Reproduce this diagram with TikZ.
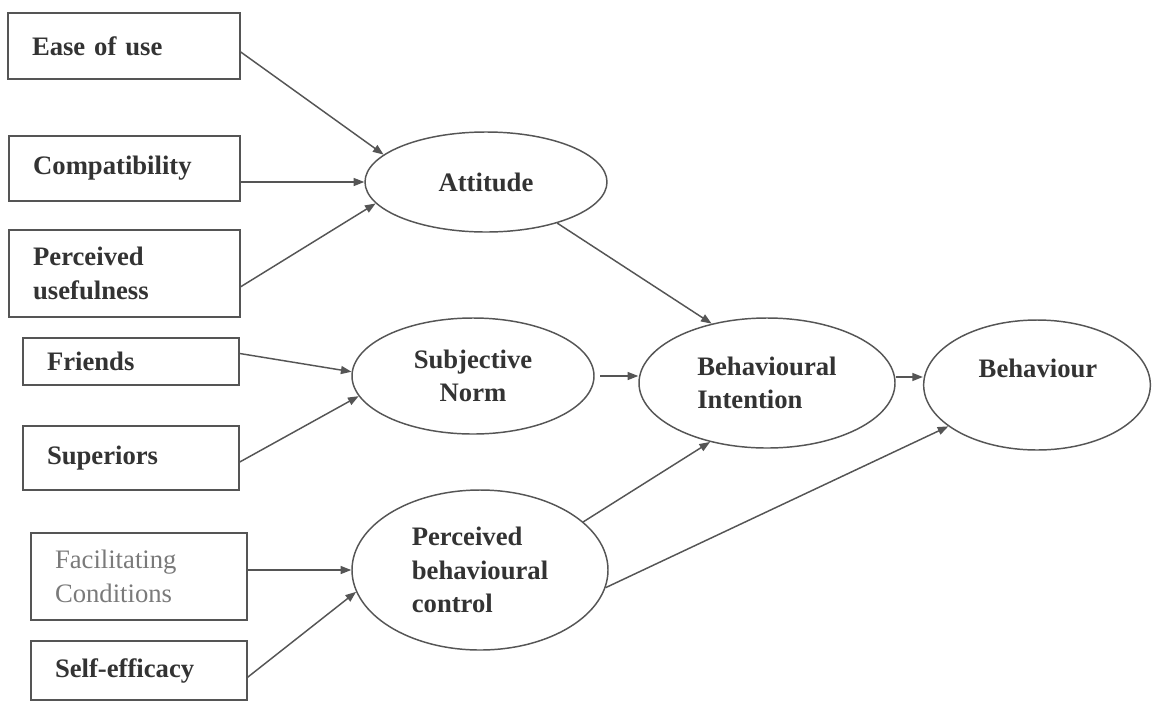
\documentclass[tikz,border=0pt]{standalone}
\usepackage{fontspec}
\setmainfont{Liberation Serif}
\usetikzlibrary{shapes.geometric,arrows.meta,calc}
\definecolor{ink}{HTML}{333333}
\definecolor{edge}{HTML}{555555}
\definecolor{soft}{HTML}{7A7A7A}
\begin{document}
\begin{tikzpicture}[x=0.75pt,y=-0.75pt,
  every node/.style={font=\fontsize{20pt}{25pt}\selectfont\bfseries, text=ink},
  factor/.style={draw=edge, line width=1.1pt, rectangle, inner xsep=18pt, inner ysep=0pt, align=left},
  construct/.style={draw=edge, line width=1.1pt, ellipse, inner sep=0pt, align=left},
  arr/.style={draw=edge, line width=1.1pt, -{Triangle[length=8pt,width=6pt]}}]
\useasboundingbox (0,0) rectangle (1153,701);
\fill[white] (0,0) rectangle (1153,701);

% left factor boxes
\node[factor, minimum width=174pt, minimum height=49.5pt, text width=138pt] (ease) at (124,46) {Ease of use};
\node[factor, minimum width=173pt, minimum height=49pt, text width=137pt] (compat) at (124.5,168.5) {Compatibility};
\node[factor, minimum width=173pt, minimum height=65pt, text width=137pt] (pu) at (124.5,273.5) {Perceived\\usefulness};
\node[factor, minimum width=162pt, minimum height=35pt, text width=126pt] (friends) at (131,361.5) {\raisebox{-4pt}{Friends}};
\node[factor, minimum width=162pt, minimum height=48pt, text width=126pt] (sup) at (131,458) {Superiors};
\node[factor, minimum width=160.5pt, minimum height=65pt, text width=126pt, font=\fontsize{20pt}{25pt}\selectfont\mdseries, text=soft] (fc) at (139,576.5) {Facilitating\\Conditions};
\node[factor, minimum width=160.5pt, minimum height=44pt, text width=126pt] (se) at (139,670.5) {Self-efficacy};

% constructs
\node[construct, minimum width=181.5pt, minimum height=75pt] (att) at (486,182) {Attitude};
\node[construct, minimum width=181.5pt, minimum height=87pt, align=center] (sn) at (473,376) {Subjective\\Norm};
\node[construct, minimum width=192pt, minimum height=97.5pt] (bi) at (767,383) {Behavioural\\Intention};
\node[construct, minimum width=170pt, minimum height=97.5pt] (beh) at (1037,385) {};
\node (behtext) at (1038,368) {Behaviour};
\node[construct, minimum width=192pt, minimum height=120pt] (pbc) at (480,570) {Perceived\\behavioural\\control};

% connectors
\draw[arr] ([yshift=-4.5pt]ease.east) -- (att.165);
\draw[arr] (compat.east |- att.west) -- (att.west);
\draw[arr] ([yshift=-10pt]pu.east) -- (att.191);
\draw[arr] ([yshift=6pt]friends.east) -- (sn.178);
\draw[arr] ([yshift=-3pt]sup.east) -- (sn.190);
\draw[arr] (fc.east |- pbc.west) -- (pbc.west);
\draw[arr] ([yshift=-5pt]se.east) -- (pbc.190);
\draw[arr] (att.-30) -- (bi.133);
\draw[arr, shorten <=4pt] (sn.east) -- (bi.west |- sn.east);
\draw[arr] (pbc.25) -- (bi.226);
\draw[arr] ([yshift=4.5pt]bi.east) -- ([yshift=6pt]beh.west);
\draw[arr] (pbc.352) -- (beh.205);
\end{tikzpicture}
\end{document}
